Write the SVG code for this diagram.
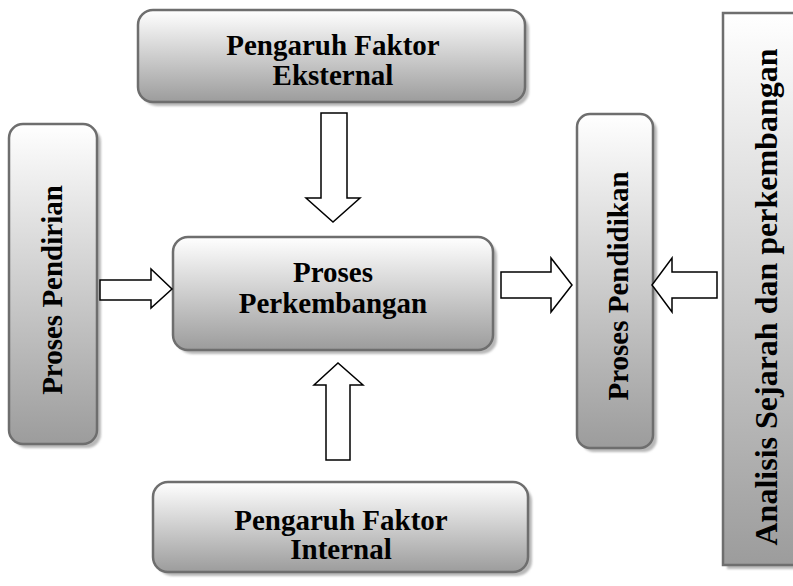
<svg xmlns="http://www.w3.org/2000/svg" width="793" height="586" viewBox="0 0 793 586">
<defs>
<linearGradient id="g" x1="0" y1="0" x2="0" y2="1">
<stop offset="0" stop-color="#ffffff"/>
<stop offset="1" stop-color="#9c9c9c"/>
</linearGradient>
<filter id="sh" x="-10%" y="-10%" width="130%" height="130%">
<feGaussianBlur stdDeviation="1"/>
</filter>
</defs>
<style>
.box{fill:url(#g);stroke:#6e6e6e;stroke-width:2.5}
.shadow{fill:#b8b8b8;filter:url(#sh)}
text{font-family:"Liberation Serif","Times New Roman",serif;font-weight:700;fill:#000;text-anchor:middle}
.arr{fill:#fff;stroke:#000;stroke-width:1.5;stroke-linejoin:miter}
</style>
<rect width="793" height="586" fill="#fff"/>
<g id="node-eksternal">
<rect class="shadow" x="142" y="14" width="387" height="92" rx="15"/>
<rect class="box" x="138" y="10" width="387" height="92" rx="15"/>
<text font-size="29" x="333" y="55">Pengaruh Faktor</text>
<text font-size="29" x="333" y="85">Eksternal</text>
</g>
<g id="node-pendirian">
<rect class="shadow" x="13" y="128" width="88" height="320" rx="14"/>
<rect class="box" x="9" y="124" width="88" height="320" rx="14"/>
<text font-size="29" transform="translate(62,290) rotate(-90)">Proses Pendirian</text>
</g>
<g id="node-perkembangan">
<rect class="shadow" x="177" y="241" width="320" height="113" rx="15"/>
<rect class="box" x="173" y="237" width="320" height="113" rx="15"/>
<text font-size="29" x="333" y="282">Proses</text>
<text font-size="29" x="333" y="313">Perkembangan</text>
</g>
<g id="node-internal">
<rect class="shadow" x="157" y="486" width="375" height="90" rx="15"/>
<rect class="box" x="153" y="482" width="375" height="90" rx="15"/>
<text font-size="29" x="341" y="530">Pengaruh Faktor</text>
<text font-size="29" x="341" y="559">Internal</text>
</g>
<g id="node-pendidikan">
<rect class="shadow" x="581" y="118" width="76" height="334" rx="13"/>
<rect class="box" x="577" y="114" width="76" height="334" rx="13"/>
<text font-size="29" transform="translate(628,286) rotate(-90)">Proses Pendidikan</text>
</g>
<g id="node-analisis">
<rect class="shadow" x="727" y="17" width="80" height="552"/>
<rect class="box" x="723" y="13" width="80" height="552"/>
<text font-size="32" transform="translate(777,297) rotate(-90)">Analisis Sejarah dan perkembangan</text>
</g>
<g id="connectors">
<polygon class="arr" points="321,113 347,113 347,198 360,198 333,222 306,198 321,198"/>
<polygon class="arr" points="326,460 350,460 350,385 363,385 338,363 314,385 326,385"/>
<polygon class="arr" points="100,280 151,280 151,269 172,289 151,308 151,300 100,300"/>
<polygon class="arr" points="501,272 551,272 551,258 572,285 551,312 551,298 501,298"/>
<polygon class="arr" points="717,272 672,272 672,258 652,285 672,312 672,298 717,298"/>
</g>
</svg>
